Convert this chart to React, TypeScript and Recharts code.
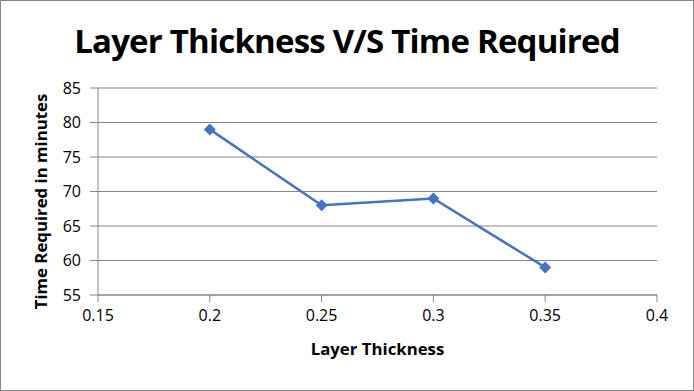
import { LineChart, Line, XAxis, YAxis, CartesianGrid } from 'recharts'

const thickness = [0.2, 0.25, 0.3, 0.35]
const minutes = [79, 68, 69, 59]
const xTicks = [0.15, 0.2, 0.25, 0.3, 0.35, 0.4]
const yTicks = [55, 60, 65, 70, 75, 80, 85]

const data = thickness.map((t, i) => ({ t, m: minutes[i] }))

const font = "'Open Sans', 'Noto Sans', sans-serif"

function Diamond(props: any) {
  const { cx, cy } = props
  if (cx == null || cy == null) return null
  const r = 6
  return (
    <polygon
      points={`${cx},${cy - r} ${cx + r},${cy} ${cx},${cy + r} ${cx - r},${cy}`}
      fill="#4472C4"
    />
  )
}

function YTitle(props: any) {
  const { viewBox } = props
  const x = 46
  const y = viewBox.y + viewBox.height / 2 + 10
  return (
    <text
      x={x}
      y={y}
      transform={`rotate(-90, ${x}, ${y})`}
      textAnchor="middle"
      fill="#000"
      fontSize={16.8}
      fontWeight={700}
      fontFamily={font}
    >
      Time Required in minutes
    </text>
  )
}

export default function App() {
  return (
    <div
      style={{
        position: 'absolute',
        left: 0,
        top: 0,
        width: 694,
        height: 391,
        background: '#fff',
        boxSizing: 'border-box',
        border: '1px solid #868686',
        fontFamily: font,
      }}
    >
      <div
        style={{
          position: 'absolute',
          left: 0,
          right: 0,
          top: 17,
          textAlign: 'center',
          fontSize: 33,
          fontWeight: 700,
          color: '#000',
          letterSpacing: -0.8,
        }}
      >
        Layer Thickness V/S Time Required
      </div>
      <LineChart
        width={692}
        height={389}
        data={data}
        margin={{ top: 87, right: 36, left: 0, bottom: 0 }}
        style={{ position: 'absolute', left: 0, top: 0 }}
      >
        <CartesianGrid vertical={false} stroke="#868686" />
        <XAxis
          type="number"
          dataKey="t"
          domain={[0.15, 0.4]}
          ticks={xTicks}
          tickFormatter={(v: number) => String(v)}
          height={95}
          tickSize={7}
          tickMargin={8}
          stroke="#868686"
          tick={{ fill: '#000', fontSize: 16, fontFamily: font }}
          label={{
            value: 'Layer Thickness',
            position: 'insideTop',
            offset: 48,
            fill: '#000',
            fontSize: 16.8,
            fontWeight: 700,
            fontFamily: font,
          }}
        />
        <YAxis
          type="number"
          domain={[55, 85]}
          ticks={yTicks}
          width={97}
          tickSize={8}
          tickMargin={9}
          stroke="#868686"
          tick={{ fill: '#000', fontSize: 16, fontFamily: font }}
          label={<YTitle />}
        />
        <Line
          dataKey="m"
          stroke="#4472C4"
          strokeWidth={2.5}
          dot={<Diamond />}
          activeDot={false}
          isAnimationActive={false}
        />
      </LineChart>
    </div>
  )
}
